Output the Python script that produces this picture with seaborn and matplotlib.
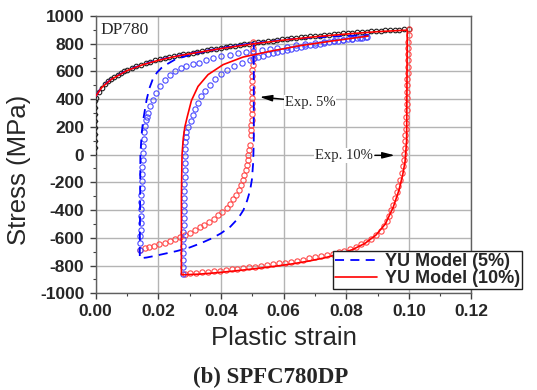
import numpy as np
import pandas as pd
import matplotlib
matplotlib.use("Agg")
import matplotlib.pyplot as plt
import seaborn as sns
from matplotlib.ticker import MultipleLocator, FormatStrFormatter

# Curva monotona (circulos negros)
mono_strain = [0.000, 0.001, 0.002, 0.003, 0.004, 0.005, 0.006, 0.007, 0.008, 0.009,
               0.010, 0.0115, 0.013, 0.0145, 0.016, 0.0175, 0.019, 0.0205, 0.022, 0.0235,
               0.025, 0.0265, 0.028, 0.0295, 0.031, 0.0325, 0.034, 0.0355, 0.037, 0.0385,
               0.040, 0.0415, 0.043, 0.0445, 0.046, 0.0475, 0.049, 0.0505, 0.052, 0.0535,
               0.055, 0.0565, 0.058, 0.0595, 0.061, 0.0625, 0.064, 0.0655, 0.067, 0.0685,
               0.070, 0.0715, 0.073, 0.0745, 0.076, 0.0775, 0.079, 0.0805, 0.082, 0.0835,
               0.085, 0.0865, 0.088, 0.0895, 0.091, 0.0925, 0.094, 0.0955, 0.097, 0.0985, 0.100]
mono_stress = [410, 452, 484, 508, 528, 546, 562, 576, 589, 601,
               612, 626, 639, 650, 660, 670, 679, 688, 696, 703,
               710, 717, 723, 729, 735, 741, 747, 753, 759, 765,
               771, 776, 781, 786, 791, 796, 801, 806, 811, 815,
               819, 823, 827, 831, 835, 839, 843, 847, 850, 853,
               856, 859, 862, 865, 868, 871, 874, 877, 879, 882,
               884, 887, 889, 892, 894, 896, 898, 900, 902, 904, 906]

# Tramo elastico ondulado
elast_strain = [0.0003, -0.0001, 0.0007, -0.0001, 0.0007, -0.0001, 0.0007, -0.0001, 0.0007,
                -0.0001, 0.0007, -0.0001, 0.0007, -0.0001, 0.0007, -0.0001, 0.0007, -0.0001, 0.0003]
elast_stress = [0, 24, 48, 72, 96, 120, 144, 168, 192, 216, 240, 264, 288, 312, 336, 360, 384, 400, 412]

# Exp. 5%: descarga/compresion (rojo) y recarga (azul)
e5_rev_strain = [0.0503, 0.0502, 0.0502, 0.0501, 0.0501, 0.0500, 0.0500, 0.0500, 0.0499, 0.0499,
                 0.0499, 0.0498, 0.0498, 0.0498, 0.0498, 0.0497, 0.0496, 0.0495, 0.0492, 0.0490,
                 0.0488, 0.0486, 0.0483, 0.0479, 0.0475, 0.0470, 0.0464, 0.0457, 0.0449, 0.0440,
                 0.0430, 0.0418, 0.0405, 0.0391, 0.0377, 0.0362, 0.0347, 0.0332, 0.0316, 0.0300,
                 0.0284, 0.0268, 0.0252, 0.0236, 0.0220, 0.0204, 0.0188, 0.0172, 0.0157, 0.0142]
e5_rev_stress = [810, 770, 730, 690, 650, 610, 570, 530, 490, 450,
                 410, 370, 330, 290, 252, 215, 180, 145, 72, 36,
                 0, -36, -72, -108, -145, -180, -216, -252, -288, -322,
                 -355, -385, -412, -438, -462, -484, -505, -525, -544, -562,
                 -580, -596, -611, -624, -636, -648, -658, -668, -677, -686]
e5_fwd_strain = [0.0142, 0.0143, 0.0143, 0.0144, 0.0144, 0.0145, 0.0145, 0.0146, 0.0146, 0.0147,
                 0.0147, 0.0148, 0.0149, 0.0150, 0.0151, 0.0152, 0.0154, 0.0155, 0.0157, 0.0160,
                 0.0163, 0.0168, 0.0175, 0.0184, 0.0194, 0.0205, 0.0220, 0.0237, 0.0255, 0.0272,
                 0.0290, 0.0310, 0.0330, 0.0354, 0.0375, 0.0400, 0.0428, 0.0455, 0.0480, 0.0503,
                 0.0530, 0.0556, 0.0580, 0.0610, 0.0640, 0.0670, 0.0700, 0.0730, 0.0760, 0.0790,
                 0.0820, 0.0845, 0.0865]
e5_fwd_stress = [-686, -640, -590, -540, -490, -440, -390, -340, -290, -240,
                 -190, -140, -90, -40, 10, 60, 110, 160, 204, 250,
                 275, 300, 350, 397, 445, 492, 535, 577, 605, 622,
                 637, 651, 664, 685, 697, 710, 721, 731, 739, 745,
                 754, 762, 770, 779, 788, 797, 805, 813, 820, 827,
                 834, 840, 845]

# Exp. 10%: descarga/compresion (rojo) y recarga (azul)
e10_rev_strain = [0.1000, 0.0999, 0.0998, 0.0998, 0.0997, 0.0997, 0.0996, 0.0996, 0.0995, 0.0995,
                  0.0994, 0.0994, 0.0993, 0.0993, 0.0992, 0.0991, 0.0990, 0.0989, 0.0988, 0.0987,
                  0.0986, 0.0984, 0.0980, 0.0977, 0.0972, 0.0967, 0.0962, 0.0956, 0.0950, 0.0943,
                  0.0937, 0.0930, 0.0922, 0.0910, 0.0895, 0.0880, 0.0864, 0.0847, 0.0830, 0.0812,
                  0.0794, 0.0776, 0.0757, 0.0738, 0.0719, 0.0700, 0.0681, 0.0662, 0.0643, 0.0624,
                  0.0605, 0.0586, 0.0567, 0.0548, 0.0529, 0.0510, 0.0491, 0.0472, 0.0453, 0.0434,
                  0.0415, 0.0396, 0.0377, 0.0358, 0.0339, 0.0320, 0.0302, 0.0285]
e10_rev_stress = [903, 860, 815, 770, 725, 680, 635, 590, 545, 500,
                  455, 410, 365, 320, 275, 230, 185, 140, 95, 50,
                  5, -40, -85, -130, -180, -225, -270, -315, -360, -400,
                  -440, -480, -517, -550, -580, -605, -628, -648, -665, -680,
                  -693, -704, -714, -724, -733, -741, -749, -757, -764, -771,
                  -778, -785, -791, -797, -803, -808, -813, -818, -823, -828,
                  -832, -837, -841, -845, -849, -853, -857, -861]
e10_fwd_strain = [0.0280, 0.0280, 0.0280, 0.0280, 0.0280, 0.0280, 0.0280, 0.0281, 0.0281, 0.0281,
                  0.0282, 0.0282, 0.0283, 0.0283, 0.0284, 0.0284, 0.0285, 0.0285, 0.0286, 0.0287,
                  0.0288, 0.0290, 0.0296, 0.0303, 0.0310, 0.0318, 0.0327, 0.0338, 0.0350, 0.0365,
                  0.0382, 0.0400, 0.0420, 0.0442, 0.0466, 0.0492, 0.0506, 0.0520, 0.0535, 0.0550,
                  0.0565, 0.0580, 0.0595, 0.0610, 0.0625, 0.0640, 0.0655, 0.0670, 0.0685, 0.0700,
                  0.0715, 0.0730, 0.0745, 0.0760, 0.0775, 0.0790, 0.0805, 0.0820, 0.0835, 0.0850, 0.0862]
e10_fwd_stress = [-861, -810, -760, -710, -660, -610, -560, -510, -460, -410,
                  -360, -310, -260, -210, -160, -110, -60, -10, 40, 90,
                  130, 160, 200, 240, 285, 328, 375, 420, 462, 505,
                  545, 580, 612, 640, 664, 686, 696, 706, 715, 724,
                  732, 740, 748, 755, 762, 769, 776, 782, 788, 794,
                  800, 806, 812, 817, 822, 827, 832, 836, 840, 844, 849]

# Modelo YU (5%)
yu5_strain = [0.000, 0.002, 0.005, 0.010, 0.015, 0.020, 0.025, 0.030, 0.035, 0.040, 0.045, 0.0505,
              0.0505, 0.0503, 0.0499, 0.0493, 0.0484, 0.0472, 0.0455, 0.0430, 0.0400, 0.0370,
              0.0335, 0.0300, 0.0260, 0.0226, 0.0190, 0.0163, 0.0141,
              0.0143, 0.0147, 0.0152, 0.0158, 0.0163, 0.0172, 0.0184, 0.0197, 0.0210, 0.0230,
              0.0253, 0.0290, 0.0333, 0.0400, 0.0450, 0.0500, 0.0550, 0.0600, 0.0650, 0.0700,
              0.0750, 0.0800, 0.0870]
yu5_stress = [420, 488, 545, 608, 650, 683, 708, 729, 749, 768, 786, 804,
              100, -60, -180, -260, -330, -400, -460, -520, -568, -605,
              -640, -670, -695, -712, -730, -742, -748,
              0, 150, 250, 330, 397, 480, 553, 595, 625, 655,
              685, 712, 735, 765, 785, 802, 815, 828, 838, 845,
              851, 856, 862]

# Modelo YU (10%)
yu10_strain = [0.000, 0.002, 0.005, 0.010, 0.015, 0.020, 0.025, 0.030, 0.040, 0.050, 0.060,
               0.070, 0.080, 0.090, 0.0995,
               0.0993, 0.0988, 0.0980, 0.0968, 0.0950, 0.0925, 0.0895, 0.0860, 0.0820, 0.0780,
               0.0730, 0.0680, 0.0630, 0.0580, 0.0530, 0.0480, 0.0430, 0.0380, 0.0330, 0.0285, 0.0274,
               0.0274, 0.0276, 0.0280, 0.0285, 0.0293, 0.0306, 0.0327, 0.0359, 0.0407, 0.0471,
               0.0556, 0.0650, 0.0750, 0.0870]
yu10_stress = [420, 485, 543, 606, 648, 680, 706, 727, 765, 798, 826,
               850, 870, 887, 898,
               100, -50, -150, -260, -380, -500, -580, -640, -685, -715,
               -745, -768, -787, -803, -817, -830, -842, -853, -862, -866, -866,
               -300, 0, 120, 200, 276, 390, 492, 577, 649, 704,
               745, 785, 818, 855]

sns.set_theme(style="white")
plt.rcParams['font.family'] = ['Liberation Sans', 'DejaVu Sans']
plt.rcParams['axes.unicode_minus'] = False

fig = plt.figure(figsize=(5.37, 3.90), dpi=100)
ax = fig.add_axes([0.178, 0.248, 0.700, 0.711])

c_blue_o = '#4a4aff'
c_red_o = '#ff4848'

def circulos(x, y, color, ms=3.8, z=2):
    df = pd.DataFrame({'x': x, 'y': y})
    sns.lineplot(data=df, x='x', y='y', sort=False, estimator=None, ax=ax,
                 linestyle='none', marker='o', markersize=ms, markerfacecolor='none',
                 markeredgecolor=color, markeredgewidth=0.8, color=color, zorder=z,
                 legend=False)

circulos(mono_strain, mono_stress, '#202020', ms=3.3)
circulos(e5_rev_strain, e5_rev_stress, c_red_o)
circulos(e10_rev_strain, e10_rev_stress, c_red_o)
circulos(e5_fwd_strain, e5_fwd_stress, c_blue_o)
circulos(e10_fwd_strain, e10_fwd_stress, c_blue_o)

sns.lineplot(x=elast_strain, y=elast_stress, sort=False, estimator=None, ax=ax,
             color='#202020', lw=0.9, zorder=3)

sns.lineplot(x=yu5_strain, y=yu5_stress, sort=False, estimator=None, ax=ax,
             color='#0000ff', lw=1.3, dashes=False, linestyle=(0, (5, 3.5)),
             zorder=4, label='YU Model (5%)')
sns.lineplot(x=yu10_strain, y=yu10_stress, sort=False, estimator=None, ax=ax,
             color='#ff0000', lw=1.2, zorder=5, label='YU Model (10%)')

ax.set_xlim(0, 0.12)
ax.set_ylim(-1000, 1000)
ax.xaxis.set_major_locator(MultipleLocator(0.02))
ax.xaxis.set_minor_locator(MultipleLocator(0.01))
ax.xaxis.set_major_formatter(FormatStrFormatter('%.2f'))
ax.yaxis.set_major_locator(MultipleLocator(200))
ax.yaxis.set_minor_locator(MultipleLocator(100))
ax.grid(True, which='major', color='#b4b4b4', lw=1.0)
ax.set_axisbelow(True)
for sp in ax.spines.values():
    sp.set_color('#606060')
    sp.set_linewidth(1.0)
ax.tick_params(which='both', direction='out', color='#404040', bottom=True, left=True)
ax.tick_params(which='major', length=4, width=1, pad=4, labelsize=12.5)
ax.tick_params(which='minor', length=2.5, width=0.8)
for lab in ax.get_xticklabels() + ax.get_yticklabels():
    lab.set_fontweight('bold')

ax.set_xlabel('Plastic strain', fontsize=18.5)
ax.set_ylabel('Stress (MPa)', fontsize=18.5)
ax.xaxis.label.set_va('center')
ax.yaxis.label.set_va('center')
ax.xaxis.set_label_coords(0.5, -0.163)
ax.yaxis.set_label_coords(-0.203, 0.445)

serif = ['Liberation Serif', 'DejaVu Serif']
ax.text(0.0016, 900, 'DP780', family=serif, fontsize=12.5, va='center', ha='left')
ax.annotate('Exp. 5%', xy=(0.0524, 416), xytext=(0.0604, 378), family=serif, fontsize=10.5,
            va='center', ha='left',
            bbox=dict(boxstyle='square,pad=0.05', fc='white', ec='none'),
            arrowprops=dict(arrowstyle='-|>,head_length=0.7,head_width=0.18', color='black',
                            lw=1.0, shrinkA=0, shrinkB=0, relpos=(0, 0.72)))
ax.annotate('Exp. 10%', xy=(0.0955, -5), xytext=(0.0885, -5), family=serif, fontsize=10.5,
            va='center', ha='right',
            bbox=dict(boxstyle='square,pad=0.05', fc='white', ec='none'),
            arrowprops=dict(arrowstyle='-|>,head_length=0.7,head_width=0.18', color='black',
                            lw=1.0, shrinkA=1, shrinkB=0, relpos=(1, 0.5)))

leg = ax.legend(loc='lower left', bbox_to_anchor=(0.620, 0.259), bbox_transform=fig.transFigure,
                prop={'family': 'Liberation Sans', 'weight': 'bold', 'size': 13},
                frameon=True, fancybox=False, framealpha=1, edgecolor='#202020',
                handlelength=2.3, handletextpad=0.45, labelspacing=0.0, borderpad=0.12,
                borderaxespad=0)
leg.get_frame().set_linewidth(1.0)
leg.set_zorder(10)

fig.text(271 / 537, 1 - 377 / 390, '(b) SPFC780DP', family=serif, fontweight='bold',
         fontsize=16.5, ha='center', va='center')

fig.savefig('out.png', dpi=100)
